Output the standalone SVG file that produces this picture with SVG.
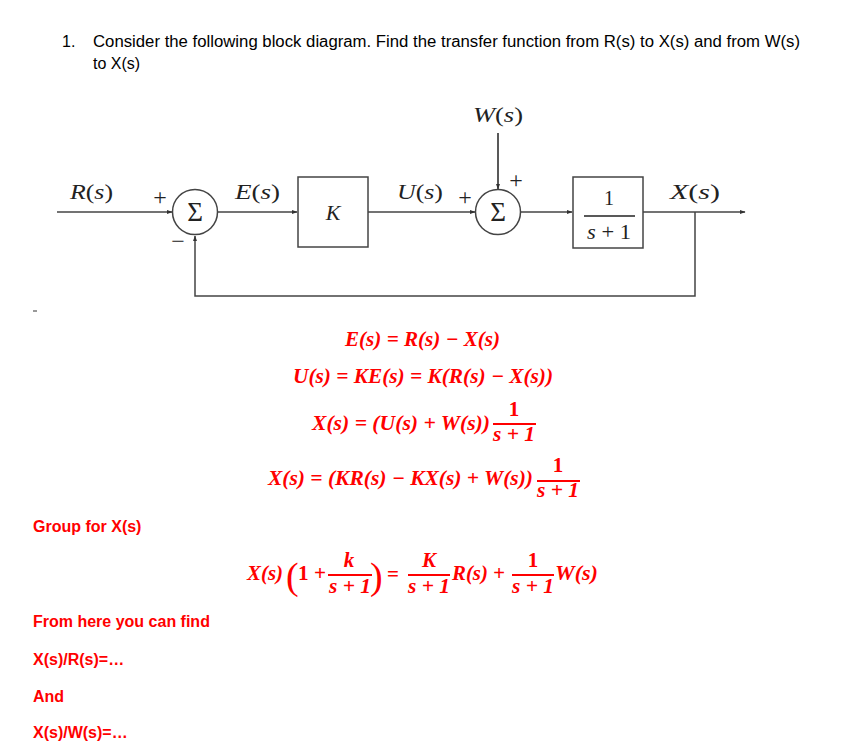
<svg xmlns="http://www.w3.org/2000/svg" width="851" height="754" viewBox="0 0 851 754">
<style>
.hdr{font-family:"Liberation Sans",Arial,sans-serif;font-size:16px;fill:#000}
.lab{font-family:"Liberation Serif","Times New Roman",serif;font-style:italic;font-size:22px;fill:#222}
.up{font-family:"Liberation Serif","Times New Roman",serif;font-size:20px;fill:#222}
.pm{font-family:"Liberation Serif","Times New Roman",serif;font-size:24px;fill:#222}
.sig{font-family:"Liberation Serif","DejaVu Serif",serif;font-size:27px;fill:#222}
.ln{stroke:#444;stroke-width:1.5;fill:none}
.blk{stroke:#444;stroke-width:1.5;fill:#fff}
.eq{font-family:"Liberation Serif","Times New Roman",serif;font-weight:bold;font-style:italic;font-size:21px;fill:#ff0000}
.eqn{font-family:"Liberation Serif","Times New Roman",serif;font-weight:bold;font-size:21px;fill:#ff0000}
.par{font-family:"Liberation Serif","Times New Roman",serif;font-size:38px;fill:#ff0000}
.red{font-family:"Liberation Sans",Arial,sans-serif;font-weight:bold;font-size:16px;fill:#ff0000}
.frac{stroke:#ff0000;stroke-width:1.8}
</style>
<defs>
<marker id="ah" viewBox="0 0 10 10" refX="9" refY="5" markerWidth="6" markerHeight="6" orient="auto" markerUnits="userSpaceOnUse">
<path d="M0,1.5 L10,5 L0,8.5 z" fill="#333"/>
</marker>
</defs>
<rect width="851" height="754" fill="#fff"/>

<g id="header">
<text class="hdr" x="62" y="47">1.</text>
<text class="hdr" x="93" y="47" textLength="707" lengthAdjust="spacingAndGlyphs">Consider the following block diagram. Find the transfer function from R(s) to X(s) and from W(s)</text>
<text class="hdr" x="93" y="69">to X(s)</text>
</g>

<g id="connectors">
<line class="ln" x1="57" y1="212" x2="172" y2="212" marker-end="url(#ah)"/>
<line class="ln" x1="218" y1="212" x2="297" y2="212" marker-end="url(#ah)"/>
<line class="ln" x1="368" y1="212" x2="475" y2="212" marker-end="url(#ah)"/>
<line class="ln" x1="498" y1="133" x2="498" y2="189" marker-end="url(#ah)" style="stroke:#222"/>
<line class="ln" x1="521" y1="212" x2="572" y2="212" marker-end="url(#ah)"/>
<line class="ln" x1="643" y1="212" x2="745" y2="212" marker-end="url(#ah)"/>
<polyline class="ln" points="695,212 695,296 195,296 195,236" marker-end="url(#ah)"/>
<line x1="33" y1="311" x2="37" y2="311" stroke="#555" stroke-width="1.2"/>
</g>

<g id="sum1">
<circle class="blk" cx="195" cy="212" r="22.5"/>
<text class="sig" x="195" y="221" text-anchor="middle">Σ</text>
<text class="pm" x="160" y="205" text-anchor="middle">+</text>
<text class="pm" x="178" y="249" text-anchor="middle">−</text>
</g>

<g id="blockK">
<rect class="blk" x="298" y="177" width="70" height="70"/>
<text class="lab" x="333" y="220" text-anchor="middle">K</text>
</g>

<g id="sum2">
<circle class="blk" cx="498" cy="212" r="22.5"/>
<text class="sig" x="498" y="221" text-anchor="middle">Σ</text>
<text class="pm" x="465" y="205" text-anchor="middle">+</text>
<text class="pm" x="516" y="188" text-anchor="middle">+</text>
</g>

<g id="plant">
<rect class="blk" x="573" y="177" width="70" height="71"/>
<text class="up" x="609" y="205" text-anchor="middle">1</text>
<line x1="584" y1="216" x2="635" y2="216" stroke="#222" stroke-width="1.3"/>
<text x="587" y="239" class="up" textLength="44" lengthAdjust="spacingAndGlyphs"><tspan font-style="italic">s</tspan> + 1</text>
</g>

<g id="labels">
<text class="lab" x="70" y="199" textLength="43" lengthAdjust="spacingAndGlyphs">R<tspan font-style="normal">(</tspan>s<tspan font-style="normal">)</tspan></text>
<text class="lab" x="235" y="199" textLength="45" lengthAdjust="spacingAndGlyphs">E<tspan font-style="normal">(</tspan>s<tspan font-style="normal">)</tspan></text>
<text class="lab" x="397" y="199" textLength="46" lengthAdjust="spacingAndGlyphs">U<tspan font-style="normal">(</tspan>s<tspan font-style="normal">)</tspan></text>
<text class="lab" x="473" y="122" textLength="50" lengthAdjust="spacingAndGlyphs">W<tspan font-style="normal">(</tspan>s<tspan font-style="normal">)</tspan></text>
<text class="lab" x="670" y="199" textLength="50" lengthAdjust="spacingAndGlyphs">X<tspan font-style="normal">(</tspan>s<tspan font-style="normal">)</tspan></text>
</g>

<g id="equations">
<text class="eq" x="345" y="346" textLength="155" lengthAdjust="spacingAndGlyphs">E(s) = R(s) − X(s)</text>
<text class="eq" x="293" y="383" textLength="260" lengthAdjust="spacingAndGlyphs">U(s) = KE(s) = K(R(s) − X(s))</text>
<text class="eq" x="312" y="430" textLength="178" lengthAdjust="spacingAndGlyphs">X(s) = (U(s) + W(s))</text>
<text class="eqn" x="514" y="416" text-anchor="middle">1</text>
<line class="frac" x1="493" y1="424" x2="536" y2="424"/>
<text class="eq" x="493" y="441" textLength="42" lengthAdjust="spacingAndGlyphs">s + 1</text>
<text class="eq" x="268" y="485" textLength="265" lengthAdjust="spacingAndGlyphs">X(s) = (KR(s) − KX(s) + W(s))</text>
<text class="eqn" x="558" y="472" text-anchor="middle">1</text>
<line class="frac" x1="537" y1="481" x2="580" y2="481"/>
<text class="eq" x="537" y="497" textLength="42" lengthAdjust="spacingAndGlyphs">s + 1</text>

<text class="eq" x="247" y="580" textLength="36" lengthAdjust="spacingAndGlyphs">X(s)</text>
<text class="par" x="286" y="589">(</text>
<text class="eqn" x="298" y="580" textLength="28" lengthAdjust="spacingAndGlyphs">1 +</text>
<text class="eq" x="349" y="567" text-anchor="middle">k</text>
<line class="frac" x1="328" y1="575" x2="372" y2="575"/>
<text class="eq" x="329" y="593" textLength="42" lengthAdjust="spacingAndGlyphs">s + 1</text>
<text class="par" x="370" y="589">)</text>
<text class="eqn" x="393" y="581" text-anchor="middle">=</text>
<text class="eq" x="429" y="567" text-anchor="middle">K</text>
<line class="frac" x1="408" y1="575" x2="450" y2="575"/>
<text class="eq" x="408" y="593" textLength="42" lengthAdjust="spacingAndGlyphs">s + 1</text>
<text class="eq" x="452" y="580" textLength="53" lengthAdjust="spacingAndGlyphs">R(s) +</text>
<text class="eqn" x="533" y="567" text-anchor="middle">1</text>
<line class="frac" x1="512" y1="575" x2="554" y2="575"/>
<text class="eq" x="512" y="593" textLength="42" lengthAdjust="spacingAndGlyphs">s + 1</text>
<text class="eq" x="555" y="580" textLength="43" lengthAdjust="spacingAndGlyphs">W(s)</text>
</g>

<g id="notes">
<text class="red" x="33" y="532">Group for X(s)</text>
<text class="red" x="33" y="627">From here you can find</text>
<text class="red" x="33" y="665">X(s)/R(s)=…</text>
<text class="red" x="33" y="702">And</text>
<text class="red" x="33" y="738">X(s)/W(s)=…</text>
</g>
</svg>
